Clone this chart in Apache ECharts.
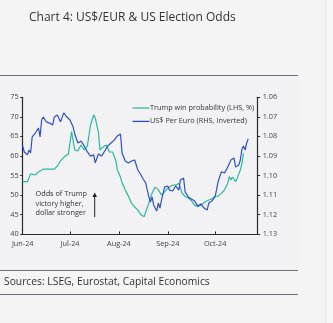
<!DOCTYPE html>
<html>
<head>
<meta charset="utf-8">
<script src="https://cdn.jsdelivr.net/npm/echarts@6/dist/echarts.min.js"></script>
<style>
  html, body { margin: 0; padding: 0; background: #f4f4f4; }
  #chart { width: 333px; height: 323px; }
</style>
</head>
<body>
<div id="chart"></div>
<script>
// Trump win probability (%), left axis
const probDates = [
  '2024-06-01','2024-06-04','2024-06-06','2024-06-07','2024-06-09','2024-06-11','2024-06-12','2024-06-14',
  '2024-06-21','2024-06-23','2024-06-25','2024-06-28','2024-06-30','2024-07-01','2024-07-02','2024-07-04',
  '2024-07-06','2024-07-08','2024-07-10','2024-07-12','2024-07-14','2024-07-16','2024-07-17','2024-07-19',
  '2024-07-20','2024-07-22','2024-07-24','2024-07-26','2024-07-28','2024-07-30','2024-07-31','2024-08-02',
  '2024-08-03','2024-08-05','2024-08-07','2024-08-09','2024-08-11','2024-08-13','2024-08-15','2024-08-17',
  '2024-08-18','2024-08-20','2024-08-21','2024-08-23','2024-08-24','2024-08-26','2024-08-28','2024-08-30',
  '2024-09-01','2024-09-04','2024-09-06','2024-09-08','2024-09-09','2024-09-10','2024-09-12','2024-09-14',
  '2024-09-16','2024-09-18','2024-09-20','2024-09-22','2024-09-25','2024-09-27','2024-09-29','2024-10-01',
  '2024-10-03','2024-10-05','2024-10-07','2024-10-09','2024-10-10','2024-10-11','2024-10-12','2024-10-14',
  '2024-10-15','2024-10-17','2024-10-18','2024-10-19'
];
const probValues = [
  53.4, 53.4, 55.4, 54.9, 55.1, 55.9, 56.4, 56.6,
  56.6, 57.4, 58.7, 60.0, 60.5, 61.0, 66.2, 61.5,
  61.3, 62.8, 61.5, 62.5, 67.9, 70.5, 69.7, 66.1,
  61.5, 62.3, 62.8, 61.0, 61.0, 58.9, 56.4, 54.6,
  53.1, 51.3, 49.7, 47.9, 46.9, 46.1, 44.9, 44.4,
  45.7, 47.9, 49.5, 51.3, 52.0, 51.3, 50.0, 50.8,
  51.8, 52.5, 52.5, 53.0, 51.8, 50.5, 49.6, 49.2,
  48.5, 47.4, 47.0, 47.4, 48.3, 48.7, 49.0, 49.6,
  49.7, 50.4, 51.3, 53.0, 54.7, 53.8, 54.6, 53.4,
  54.3, 56.4, 58.1, 60.7
];

// US$ per euro, right axis (inverted)
const fxDates = [
  '2024-06-01','2024-06-02','2024-06-04','2024-06-05','2024-06-06','2024-06-07','2024-06-09','2024-06-11',
  '2024-06-12','2024-06-13','2024-06-14','2024-06-16','2024-06-18','2024-06-20','2024-06-21','2024-06-23',
  '2024-06-25','2024-06-27','2024-06-29','2024-07-01','2024-07-03','2024-07-04','2024-07-06','2024-07-08',
  '2024-07-10','2024-07-12','2024-07-14','2024-07-16','2024-07-17','2024-07-19','2024-07-21','2024-07-23',
  '2024-07-25','2024-07-27','2024-07-29','2024-07-31','2024-08-02','2024-08-03','2024-08-05','2024-08-07',
  '2024-08-09','2024-08-11','2024-08-13','2024-08-15','2024-08-16','2024-08-18','2024-08-19','2024-08-20',
  '2024-08-21','2024-08-22','2024-08-23','2024-08-25','2024-08-26','2024-08-27','2024-08-28','2024-08-30',
  '2024-09-01','2024-09-02','2024-09-04','2024-09-06','2024-09-08','2024-09-09','2024-09-11','2024-09-12',
  '2024-09-14','2024-09-16','2024-09-18','2024-09-20','2024-09-22','2024-09-24','2024-09-26','2024-09-27',
  '2024-09-29','2024-10-01','2024-10-03','2024-10-05','2024-10-07','2024-10-09','2024-10-11','2024-10-13',
  '2024-10-14','2024-10-16','2024-10-17','2024-10-18','2024-10-19','2024-10-20','2024-10-21','2024-10-22'
];
const fxValues = [
  1.0849, 1.0880, 1.0895, 1.0870, 1.0885, 1.0803, 1.0783, 1.0757,
  1.0803, 1.0716, 1.0701, 1.0726, 1.0732, 1.0742, 1.0701, 1.0691,
  1.0726, 1.0680, 1.0701, 1.0716, 1.0752, 1.0788, 1.0834, 1.0824,
  1.0849, 1.0880, 1.0901, 1.0895, 1.0936, 1.0890, 1.0901, 1.0875,
  1.0849, 1.0834, 1.0819, 1.0798, 1.0788, 1.0885, 1.0926, 1.0936,
  1.0926, 1.0921, 1.0972, 1.0998, 1.1013, 1.1039, 1.1075, 1.1110,
  1.1136, 1.1110, 1.1151, 1.1182, 1.1141, 1.1167, 1.1126, 1.1059,
  1.1054, 1.1075, 1.1080, 1.1054, 1.1075, 1.1023, 1.1013, 1.1085,
  1.1110, 1.1121, 1.1131, 1.1157, 1.1146, 1.1167, 1.1177, 1.1141,
  1.1131, 1.1109, 1.1029, 1.0981, 1.0988, 1.0957, 1.0921, 1.0911,
  1.0957, 1.0947, 1.0921, 1.0865, 1.0849, 1.0870, 1.0834, 1.0813
];

const monthNames = ['Jan','Feb','Mar','Apr','May','Jun','Jul','Aug','Sep','Oct','Nov','Dec'];
const titleText = 'Chart 4: US$/EUR & US Election Odds';
const sourceText = 'Sources: LSEG, Eurostat, Capital Economics';
const noteLines = ['Odds of Trump', 'victory higher,', 'dollar stronger'];
const probName = 'Trump win probability (LHS, %)';
const fxName = 'US$ Per Euro (RHS, Inverted)';

const TEAL = '#2bb9a0';
const BLUE = '#2f50c2';
const AXIS = '#2a2a2a';
const LABEL = '#444444';
const RULE = '#6e6e7c';
const FONT = '"Open Sans", "Noto Sans", sans-serif';

const chart = echarts.init(document.getElementById('chart'), null, { renderer: 'canvas' });

const pair = (dates, vals) => dates.map((d, i) => [d, vals[i]]);

chart.setOption({
  backgroundColor: '#f4f4f4',
  animation: false,
  textStyle: { fontFamily: FONT },
  grid: { left: 22.7, right: 75.3, top: 97.3, bottom: 89, containLabel: false },
  legend: {
    orient: 'vertical',
    left: 127.5,
    top: 98.5,
    icon: 'rect',
    itemWidth: 17,
    itemHeight: 1.3,
    itemGap: 4.4,
    textStyle: { fontSize: 7.3, lineHeight: 9, color: '#333', padding: [0, 0, 0, -4.5], fontFamily: FONT },
    data: [probName, fxName]
  },
  xAxis: {
    type: 'time',
    min: '2024-06-01',
    max: '2024-10-28',
    splitNumber: 5,
    axisLine: { show: true, lineStyle: { color: AXIS, width: 1.2 } },
    axisTick: { show: true, inside: true, length: 2.5, lineStyle: { color: AXIS } },
    splitLine: { show: false },
    axisLabel: {
      fontSize: 7.3,
      color: LABEL,
      margin: 6,
      hideOverlap: false,
      formatter: function (val) {
        const d = new Date(val);
        if (d.getDate() !== 1) return '';
        return monthNames[d.getMonth()] + '-' + String(d.getFullYear()).slice(2);
      }
    }
  },
  yAxis: [
    {
      type: 'value',
      min: 40, max: 75, interval: 5,
      position: 'left',
      axisLine: { show: true, lineStyle: { color: AXIS, width: 1.2 } },
      axisTick: { show: true, length: 2.5, lineStyle: { color: AXIS } },
      splitLine: { show: false },
      axisLabel: { fontSize: 7.3, color: LABEL, margin: 4 }
    },
    {
      type: 'value',
      min: 1.06, max: 1.13, interval: 0.01,
      inverse: true,
      position: 'right',
      axisLine: { show: true, lineStyle: { color: AXIS, width: 1.2 } },
      axisTick: { show: true, length: 2.5, lineStyle: { color: AXIS } },
      splitLine: { show: false },
      axisLabel: { fontSize: 7.3, color: LABEL, margin: 5, formatter: v => v.toFixed(2) }
    }
  ],
  series: [
    {
      name: probName,
      type: 'line',
      yAxisIndex: 0,
      symbol: 'none',
      lineStyle: { color: TEAL, width: 1.2 },
      itemStyle: { color: TEAL },
      data: pair(probDates, probValues),
      z: 2
    },
    {
      name: fxName,
      type: 'line',
      yAxisIndex: 1,
      symbol: 'none',
      lineStyle: { color: BLUE, width: 1.2 },
      itemStyle: { color: BLUE },
      data: pair(fxDates, fxValues),
      z: 3
    }
  ],
  graphic: [
    // chart panel and side strip
    { type: 'rect', z: -10, shape: { x: 0, y: 76, width: 298, height: 194 }, style: { fill: '#f2f2f4' } },
    { type: 'rect', z: -10, shape: { x: 325, y: 0, width: 8, height: 323 }, style: { fill: '#f7f7f7' } },
    { type: 'line', z: -9, shape: { x1: 325.5, y1: 0, x2: 325.5, y2: 323 }, style: { stroke: '#e6e6e6', lineWidth: 1 } },
    // horizontal rules
    { type: 'line', shape: { x1: 0, y1: 75.5, x2: 298, y2: 75.5 }, style: { stroke: RULE, lineWidth: 1 } },
    { type: 'line', shape: { x1: 0, y1: 270.5, x2: 298, y2: 270.5 }, style: { stroke: RULE, lineWidth: 1 } },
    { type: 'line', shape: { x1: 0, y1: 294.5, x2: 298, y2: 294.5 }, style: { stroke: RULE, lineWidth: 1 } },
    // title and source
    { type: 'text', x: 29, y: 18, style: { text: titleText, font: '12px ' + FONT, fill: '#333', verticalAlign: 'middle' } },
    { type: 'text', x: 4, y: 282.5, style: { text: sourceText, font: '10.3px ' + FONT, fill: '#333', verticalAlign: 'middle' } },
    // annotation
    { type: 'text', x: 35.5, y: 194, style: { text: noteLines[0], font: '7.3px ' + FONT, fill: '#333', verticalAlign: 'middle' } },
    { type: 'text', x: 35.5, y: 203.7, style: { text: noteLines[1], font: '7.3px ' + FONT, fill: '#333', verticalAlign: 'middle' } },
    { type: 'text', x: 35.5, y: 213.4, style: { text: noteLines[2], font: '7.3px ' + FONT, fill: '#333', verticalAlign: 'middle' } },
    { type: 'line', shape: { x1: 94.7, y1: 196, x2: 94.7, y2: 217 }, style: { stroke: '#222', lineWidth: 1 } },
    { type: 'polygon', shape: { points: [[94.7, 192.5], [92.4, 197], [97, 197]] }, style: { fill: '#222' } }
  ]
});
</script>
</body>
</html>
